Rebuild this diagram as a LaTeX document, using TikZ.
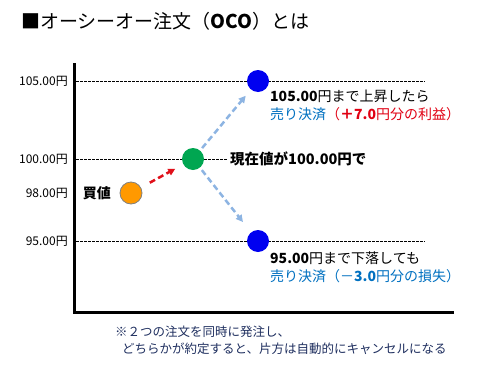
\documentclass[tikz,border=0pt]{standalone}
\usepackage{fontspec}
\usepackage{xcolor}
\setmainfont{Noto Sans CJK JP}
\usetikzlibrary{arrows.meta}
\definecolor{buyorange}{HTML}{FF9900}
\definecolor{nowgreen}{HTML}{00A651}
\definecolor{dotblue}{HTML}{0000F0}
\definecolor{arrowblue}{HTML}{8DB4E2}
\definecolor{arrowred}{HTML}{E0101A}
\definecolor{sellblue}{HTML}{0070C0}
\definecolor{gainred}{HTML}{E00012}
\definecolor{notenavy}{HTML}{1F2F5F}
\tikzstyle{price-label} = [anchor=east, inner sep=0pt, font=\fontsize{12}{14}\selectfont]
\tikzstyle{level-line} = [black, line width=0.6pt, dash pattern=on 2.5pt off 1.5pt]
\tikzstyle{price-dot} = [circle, minimum size=22pt, inner sep=0pt]
\tikzstyle{move-arrow} = [line width=2.5pt, dash pattern=on 6pt off 3.5pt,
    -{Triangle[length=7pt,width=7pt]}]
\tikzstyle{info-text} = [anchor=west, inner sep=0pt, align=left,
    font=\fontsize{14}{18}\selectfont]

\begin{document}
\begin{tikzpicture}[x=1pt,y=-1pt]
\useasboundingbox (0,0) rectangle (490,367);
\node[anchor=west, inner sep=0pt, font=\fontsize{19}{22}\selectfont] (title) at (21,21)
    {■オーシーオー注文（\textbf{OCO}）とは};
% axis
\draw[line width=3pt] (74,63) -- (74,312) -- (454,312);
\node[price-label] (p105) at (68,81) {105.00円};
\node[price-label] (p100) at (68,159) {100.00円};
\node[price-label] (p98) at (68,193) {98.00円};
\node[price-label] (p95) at (68,241) {95.00円};
% texts
\node[info-text, font=\bfseries\fontsize{14.5}{18}\selectfont] (nowtxt) at (230,159) {現在値が100.00円で};
\node[info-text] (uptxt) at (270,105) {\textbf{105.00}円まで上昇したら\\
    {\color{sellblue}売り決済}{\color{gainred}（\textbf{＋7.0}円分の利益）}};
\node[info-text] (downtxt) at (270,267) {\textbf{95.00}円まで下落しても\\
    {\color{sellblue}売り決済（－\textbf{3.0}円分の損失）}};
\node[anchor=west, inner sep=0pt, align=left, text=notenavy,
    font=\fontsize{12.5}{17}\selectfont] (note) at (115,340)
    {※２つの注文を同時に発注し、\\\hspace*{7pt}どちらかが約定すると、片方は自動的にキャンセルになる};
% level lines
\coordinate (top-l) at (76,81);
\coordinate (top-r) at (425,81);
\coordinate (mid-l) at (76,159);
\coordinate (bot-l) at (76,241);
\coordinate (bot-r) at (425,241);
\draw[level-line] (top-l) -- (top-r);
\draw[level-line, shorten >=3pt] (mid-l) -- (nowtxt.west);
\draw[level-line] (bot-l) -- (bot-r);
% prices
\node[price-dot, fill=dotblue] (up) at (258,81) {};
\node[price-dot, fill=dotblue] (down) at (258,241) {};
\node[price-dot, fill=nowgreen] (now) at (193,159) {};
\node[price-dot, fill=buyorange, draw=gray, line width=0.8pt] (buy) at (131,193) {};
\node[anchor=east, inner sep=0pt, font=\bfseries\fontsize{14}{18}\selectfont] (buytxt) at (111,193) {買値};
\draw[move-arrow, arrowred, shorten <=10pt, shorten >=9pt] (buy) -- (now);
\draw[move-arrow, arrowblue, shorten <=3pt, shorten >=8pt] (now) -- (up);
\draw[move-arrow, arrowblue, shorten <=3pt, shorten >=13pt] (now) -- (down);
\end{tikzpicture}
\end{document}
